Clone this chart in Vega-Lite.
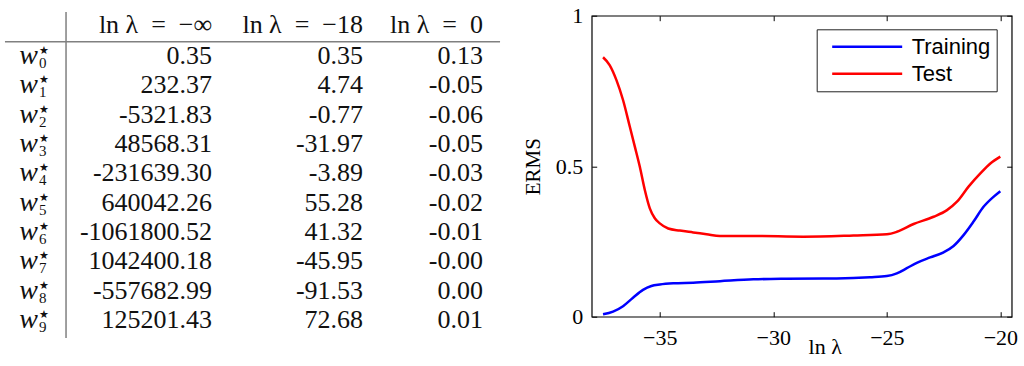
{
  "$schema": "https://vega.github.io/schema/vega-lite/v6.json",
  "background": "white",
  "padding": {"left": 0, "top": 3.7, "right": 0, "bottom": 0},
  "autosize": {"type": "pad"},
  "bounds": "flush",
  "spacing": 81.7,
  "config": {"view": {"stroke": null}},
  "datasets": {
    "cells": [
      {"row": -1, "col": 1, "text": "ln λ\u2002=\u2002−∞"},
      {"row": -1, "col": 2, "text": "ln λ\u2002=\u2002−18"},
      {"row": -1, "col": 3, "text": "ln λ\u2002=\u20020"},
      {"row": 0, "col": 1, "text": "0.35"}, {"row": 0, "col": 2, "text": "0.35"}, {"row": 0, "col": 3, "text": "0.13"},
      {"row": 1, "col": 1, "text": "232.37"}, {"row": 1, "col": 2, "text": "4.74"}, {"row": 1, "col": 3, "text": "-0.05"},
      {"row": 2, "col": 1, "text": "-5321.83"}, {"row": 2, "col": 2, "text": "-0.77"}, {"row": 2, "col": 3, "text": "-0.06"},
      {"row": 3, "col": 1, "text": "48568.31"}, {"row": 3, "col": 2, "text": "-31.97"}, {"row": 3, "col": 3, "text": "-0.05"},
      {"row": 4, "col": 1, "text": "-231639.30"}, {"row": 4, "col": 2, "text": "-3.89"}, {"row": 4, "col": 3, "text": "-0.03"},
      {"row": 5, "col": 1, "text": "640042.26"}, {"row": 5, "col": 2, "text": "55.28"}, {"row": 5, "col": 3, "text": "-0.02"},
      {"row": 6, "col": 1, "text": "-1061800.52"}, {"row": 6, "col": 2, "text": "41.32"}, {"row": 6, "col": 3, "text": "-0.01"},
      {"row": 7, "col": 1, "text": "1042400.18"}, {"row": 7, "col": 2, "text": "-45.95"}, {"row": 7, "col": 3, "text": "-0.00"},
      {"row": 8, "col": 1, "text": "-557682.99"}, {"row": 8, "col": 2, "text": "-91.53"}, {"row": 8, "col": 3, "text": "0.00"},
      {"row": 9, "col": 1, "text": "125201.43"}, {"row": 9, "col": 2, "text": "72.68"}, {"row": 9, "col": 3, "text": "0.01"}
    ],
    "labels": [
      {"row": 0, "sub": "0"}, {"row": 1, "sub": "1"}, {"row": 2, "sub": "2"}, {"row": 3, "sub": "3"}, {"row": 4, "sub": "4"},
      {"row": 5, "sub": "5"}, {"row": 6, "sub": "6"}, {"row": 7, "sub": "7"}, {"row": 8, "sub": "8"}, {"row": 9, "sub": "9"}
    ],
    "curves": [
      {"set": "Training", "lnl": -37.50, "erms": 0.008},
      {"set": "Training", "lnl": -37.06, "erms": 0.017},
      {"set": "Training", "lnl": -36.62, "erms": 0.035},
      {"set": "Training", "lnl": -36.18, "erms": 0.063},
      {"set": "Training", "lnl": -35.74, "erms": 0.089},
      {"set": "Training", "lnl": -35.37, "erms": 0.102},
      {"set": "Training", "lnl": -35.00, "erms": 0.107},
      {"set": "Training", "lnl": -34.41, "erms": 0.111},
      {"set": "Training", "lnl": -33.53, "erms": 0.113},
      {"set": "Training", "lnl": -32.35, "erms": 0.118},
      {"set": "Training", "lnl": -30.88, "erms": 0.124},
      {"set": "Training", "lnl": -29.41, "erms": 0.126},
      {"set": "Training", "lnl": -27.21, "erms": 0.127},
      {"set": "Training", "lnl": -25.74, "erms": 0.131},
      {"set": "Training", "lnl": -25.00, "erms": 0.135},
      {"set": "Training", "lnl": -24.56, "erms": 0.144},
      {"set": "Training", "lnl": -24.12, "erms": 0.161},
      {"set": "Training", "lnl": -23.68, "erms": 0.179},
      {"set": "Training", "lnl": -23.09, "erms": 0.197},
      {"set": "Training", "lnl": -22.50, "erms": 0.214},
      {"set": "Training", "lnl": -22.06, "erms": 0.235},
      {"set": "Training", "lnl": -21.62, "erms": 0.271},
      {"set": "Training", "lnl": -21.18, "erms": 0.316},
      {"set": "Training", "lnl": -20.74, "erms": 0.365},
      {"set": "Training", "lnl": -20.29, "erms": 0.399},
      {"set": "Training", "lnl": -20.00, "erms": 0.417},
      {"set": "Test", "lnl": -37.50, "erms": 0.862},
      {"set": "Test", "lnl": -37.21, "erms": 0.836},
      {"set": "Test", "lnl": -36.91, "erms": 0.786},
      {"set": "Test", "lnl": -36.62, "erms": 0.720},
      {"set": "Test", "lnl": -36.32, "erms": 0.631},
      {"set": "Test", "lnl": -36.10, "erms": 0.565},
      {"set": "Test", "lnl": -35.88, "erms": 0.498},
      {"set": "Test", "lnl": -35.66, "erms": 0.421},
      {"set": "Test", "lnl": -35.44, "erms": 0.360},
      {"set": "Test", "lnl": -35.22, "erms": 0.327},
      {"set": "Test", "lnl": -35.00, "erms": 0.310},
      {"set": "Test", "lnl": -34.63, "erms": 0.293},
      {"set": "Test", "lnl": -34.12, "erms": 0.286},
      {"set": "Test", "lnl": -33.53, "erms": 0.280},
      {"set": "Test", "lnl": -32.94, "erms": 0.274},
      {"set": "Test", "lnl": -32.35, "erms": 0.268},
      {"set": "Test", "lnl": -30.88, "erms": 0.268},
      {"set": "Test", "lnl": -28.68, "erms": 0.266},
      {"set": "Test", "lnl": -26.47, "erms": 0.270},
      {"set": "Test", "lnl": -25.00, "erms": 0.274},
      {"set": "Test", "lnl": -24.56, "erms": 0.282},
      {"set": "Test", "lnl": -23.82, "erms": 0.308},
      {"set": "Test", "lnl": -22.94, "erms": 0.332},
      {"set": "Test", "lnl": -22.35, "erms": 0.354},
      {"set": "Test", "lnl": -21.91, "erms": 0.382},
      {"set": "Test", "lnl": -21.40, "erms": 0.432},
      {"set": "Test", "lnl": -20.88, "erms": 0.476},
      {"set": "Test", "lnl": -20.44, "erms": 0.509},
      {"set": "Test", "lnl": -20.00, "erms": 0.532}
    ]
  },
  "hconcat": [
    {
      "width": 510,
      "height": 330,
      "layer": [
        {
          "data": {"name": "cells"},
          "mark": {"type": "text", "align": "right", "baseline": "alphabetic", "font": "Liberation Serif", "fontSize": 26, "color": "#111"},
          "encoding": {
            "x": {"field": "col", "type": "quantitative", "axis": null, "scale": {"domain": [0, 1, 2, 3], "range": [38, 212, 363, 483], "nice": false, "zero": false}},
            "y": {"field": "row", "type": "quantitative", "axis": null, "scale": {"domain": [-1, 0, 9], "range": [17.6, 48.3, 312.3], "nice": false, "zero": false}},
            "text": {"field": "text"}
          }
        },
        {
          "data": {"name": "labels"},
          "mark": {"type": "text", "align": "right", "baseline": "alphabetic", "font": "Liberation Serif", "fontStyle": "italic", "fontSize": 28, "color": "#111"},
          "encoding": {
            "x": {"datum": 0},
            "y": {"field": "row", "type": "quantitative"},
            "text": {"value": "w"}
          }
        },
        {
          "data": {"name": "labels"},
          "mark": {"type": "text", "align": "left", "baseline": "alphabetic", "font": "Liberation Serif", "fontSize": 15, "dx": 1, "dy": 4, "color": "#111"},
          "encoding": {
            "x": {"datum": 0},
            "y": {"field": "row", "type": "quantitative"},
            "text": {"field": "sub"}
          }
        },
        {
          "data": {"name": "labels"},
          "mark": {"type": "text", "align": "left", "baseline": "alphabetic", "font": "DejaVu Sans", "fontSize": 11, "dx": 1, "dy": -10, "color": "#111"},
          "encoding": {
            "x": {"datum": 0},
            "y": {"field": "row", "type": "quantitative"},
            "text": {"value": "★"}
          }
        },
        {
          "data": {"values": [{}]},
          "mark": {"type": "rule", "color": "#808080", "strokeWidth": 1.5},
          "encoding": {
            "x": {"datum": 0.161},
            "y": {"datum": -1.694},
            "y2": {"datum": 9.341}
          }
        },
        {
          "data": {"values": [{}]},
          "mark": {"type": "rule", "color": "#808080", "strokeWidth": 1.5},
          "encoding": {
            "x": {"datum": -0.19},
            "x2": {"datum": 3.142},
            "y": {"datum": -0.726}
          }
        }
      ]
    },
    {
      "width": 420,
      "height": 301,
      "view": {"stroke": "black", "strokeWidth": 1.2},
      "data": {"name": "curves"},
      "layer": [
        {
          "mark": {"type": "line", "interpolate": "monotone", "strokeWidth": 2.5},
          "encoding": {
            "x": {
              "field": "lnl", "type": "quantitative",
              "scale": {"domain": [-38, -19.5], "nice": false, "zero": false},
              "axis": {
                "orient": "bottom", "values": [-35, -30, -25, -20], "format": "d",
                "grid": false, "domain": false, "tickSize": -5, "tickColor": "black", "tickWidth": 1,
                "labelFont": "Liberation Serif", "labelFontSize": 22, "labelColor": "black", "labelPadding": 16, "labelFlush": false,
                "title": "ln λ", "titleFont": "Liberation Serif", "titleFontSize": 22, "titleFontWeight": "normal", "titleColor": "black",
                "titleX": 233, "titleY": 37, "titleBaseline": "alphabetic", "titleAlign": "center", "titleAnchor": null
              }
            },
            "y": {
              "field": "erms", "type": "quantitative",
              "scale": {"domain": [0, 1], "nice": false, "zero": false},
              "axis": {
                "orient": "left", "values": [0, 0.5, 1], "format": "~g",
                "grid": false, "domain": false, "tickSize": -5, "tickColor": "black", "tickWidth": 1,
                "labelFont": "Liberation Serif", "labelFontSize": 22, "labelColor": "black", "labelPadding": 14, "labelFlush": false,
                "title": "ERMS", "titleFont": "Liberation Serif", "titleFontSize": 21, "titleFontWeight": "normal", "titleColor": "black",
                "titleX": -52, "titleY": 150.5, "titleBaseline": "alphabetic", "titleAlign": "center", "titleAngle": -90
              }
            },
            "color": {
              "field": "set", "type": "nominal",
              "scale": {"domain": ["Training", "Test"], "range": ["#0000ff", "#ff0000"]},
              "legend": {
                "title": null, "orient": "none", "legendX": 816.7, "legendY": 13.6,
                "symbolType": "M-3.5,0H3.5", "symbolSize": 400, "symbolStrokeWidth": 2.5, "symbolOffset": 33,
                "labelFont": "Liberation Sans", "labelFontSize": 22, "labelColor": "black", "labelOffset": 33,
                "strokeColor": "#222", "fillColor": "white", "padding": 6, "rowPadding": 4
              }
            }
          }
        },
        {
          "mark": {"type": "line", "opacity": 0},
          "encoding": {
            "x": {
              "field": "lnl", "type": "quantitative",
              "axis": {"orient": "top", "values": [-35, -30, -25, -20], "labels": false, "title": null, "grid": false, "domain": false, "tickSize": -5, "tickColor": "black"}
            },
            "y": {
              "field": "erms", "type": "quantitative",
              "axis": {"orient": "right", "values": [0, 0.5, 1], "labels": false, "title": null, "grid": false, "domain": false, "tickSize": -5, "tickColor": "black"}
            },
            "detail": {"field": "set"}
          }
        }
      ],
      "resolve": {"axis": {"x": "independent", "y": "independent"}}
    }
  ]
}
